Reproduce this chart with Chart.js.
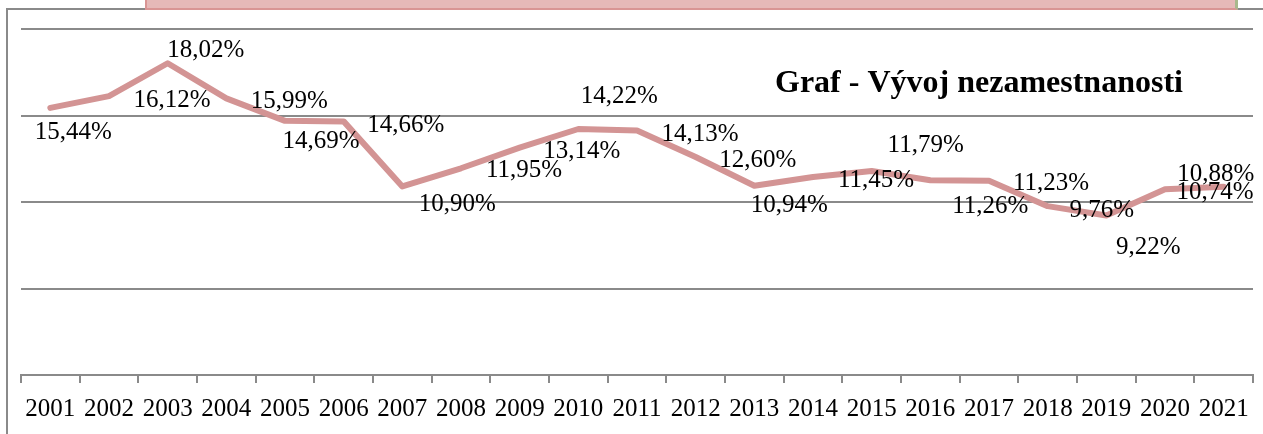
<!DOCTYPE html>
<html lang="sk">
<head>
    <meta charset="UTF-8">
    <title>Graf - Vývoj nezamestnanosti</title>
    <script src="https://cdn.jsdelivr.net/npm/chart.js@4/dist/chart.umd.min.js"></script>
    <style>
        html, body {
            margin: 0;
            padding: 0;
            background: #ffffff;
            overflow: hidden;
        }
        #wrap {
            position: relative;
            width: 1263px;
            height: 434px;
        }
        #frame {
            position: absolute;
            left: 6px;
            top: 8px;
            right: 0;
            bottom: 0;
            border-left: 2px solid #8a8a8a;
            border-top: 2px solid #8a8a8a;
            pointer-events: none;
        }
        #topbox {
            position: absolute;
            left: 145px;
            top: -4px;
            width: 1088px;
            height: 10px;
            background: #e6b9b8;
            border: 2px solid #d99594;
            border-right: 3px solid #a8b88c;
            pointer-events: none;
        }
        canvas {
            position: absolute;
            left: 0;
            top: 0;
        }
    </style>
</head>
<body>
<div id="wrap">
    <canvas id="chart" width="1263" height="434"></canvas>
    <div id="frame"></div>
    <div id="topbox"></div>
</div>
<script>
    const years = ['2001', '2002', '2003', '2004', '2005', '2006', '2007', '2008', '2009', '2010', '2011',
                   '2012', '2013', '2014', '2015', '2016', '2017', '2018', '2019', '2020', '2021'];
    const unemployment = [15.44, 16.12, 18.02, 15.99, 14.69, 14.66, 10.90, 11.95, 13.14, 14.22, 14.13,
                          12.60, 10.94, 11.45, 11.79, 11.26, 11.23, 9.76, 9.22, 10.74, 10.88];
    const chartTitle = 'Graf - Vývoj nezamestnanosti';

    // where each value label sits relative to its point (dx, dy), like the Excel original
    const labelOffsets = [[23, 23], [63, 3], [38, -14], [63, 2], [36, 19], [62, 3], [55, 17], [63, 1],
                          [62, 2], [41, -34], [63, 2], [62, 2], [35, 18], [63, 2], [54, -27], [60, 25],
                          [62, 1], [54, 3], [42, 31], [50, 2], [-8, -14]];

    const serif = "'Liberation Serif', 'Times New Roman', serif";

    function formatPct(v) {
        return v.toFixed(2).replace('.', ',') + '%';
    }

    // value labels + title drawn on top of the line
    const labelsPlugin = {
        id: 'labelsPlugin',
        afterDatasetsDraw(chart) {
            const ctx = chart.ctx;
            const meta = chart.getDatasetMeta(0);
            ctx.save();
            ctx.fillStyle = '#000000';
            ctx.font = '25px ' + serif;
            ctx.textAlign = 'center';
            ctx.textBaseline = 'alphabetic';
            meta.data.forEach((pt, i) => {
                const off = labelOffsets[i];
                ctx.fillText(formatPct(unemployment[i]), pt.x + off[0], pt.y + off[1] + 8);
            });

            ctx.font = 'bold 32px ' + serif;
            ctx.textAlign = 'left';
            ctx.fillText(chartTitle, 775, 92);
            ctx.restore();
        }
    };

    const ctx = document.getElementById('chart').getContext('2d');
    new Chart(ctx, {
        type: 'line',
        data: {
            labels: years,
            datasets: [{
                data: unemployment,
                borderColor: '#d39494',
                borderWidth: 6,
                borderCapStyle: 'round',
                borderJoinStyle: 'round',
                pointRadius: 0,
                tension: 0,
                fill: false
            }]
        },
        options: {
            responsive: false,
            animation: false,
            devicePixelRatio: 1,
            layout: {
                padding: { left: 21, right: 10, top: 29, bottom: 0 }
            },
            plugins: {
                legend: { display: false },
                title: { display: false },
                tooltip: { enabled: false }
            },
            scales: {
                x: {
                    offset: true,
                    grid: {
                        offset: true,
                        drawOnChartArea: false,
                        drawTicks: true,
                        tickLength: 8,
                        color: '#8a8a8a',
                        lineWidth: 2
                    },
                    border: { display: true, color: '#8a8a8a', width: 2 },
                    ticks: {
                        color: '#000000',
                        font: { family: serif, size: 25 },
                        padding: 11,
                        maxRotation: 0,
                        autoSkip: false
                    },
                    afterFit(scale) { scale.height = 59; }
                },
                y: {
                    min: 0,
                    max: 20,
                    ticks: { display: false, stepSize: 5 },
                    grid: { color: '#8a8a8a', lineWidth: 2, drawTicks: false },
                    border: { display: false }
                }
            }
        },
        plugins: [labelsPlugin]
    });
</script>
</body>
</html>
